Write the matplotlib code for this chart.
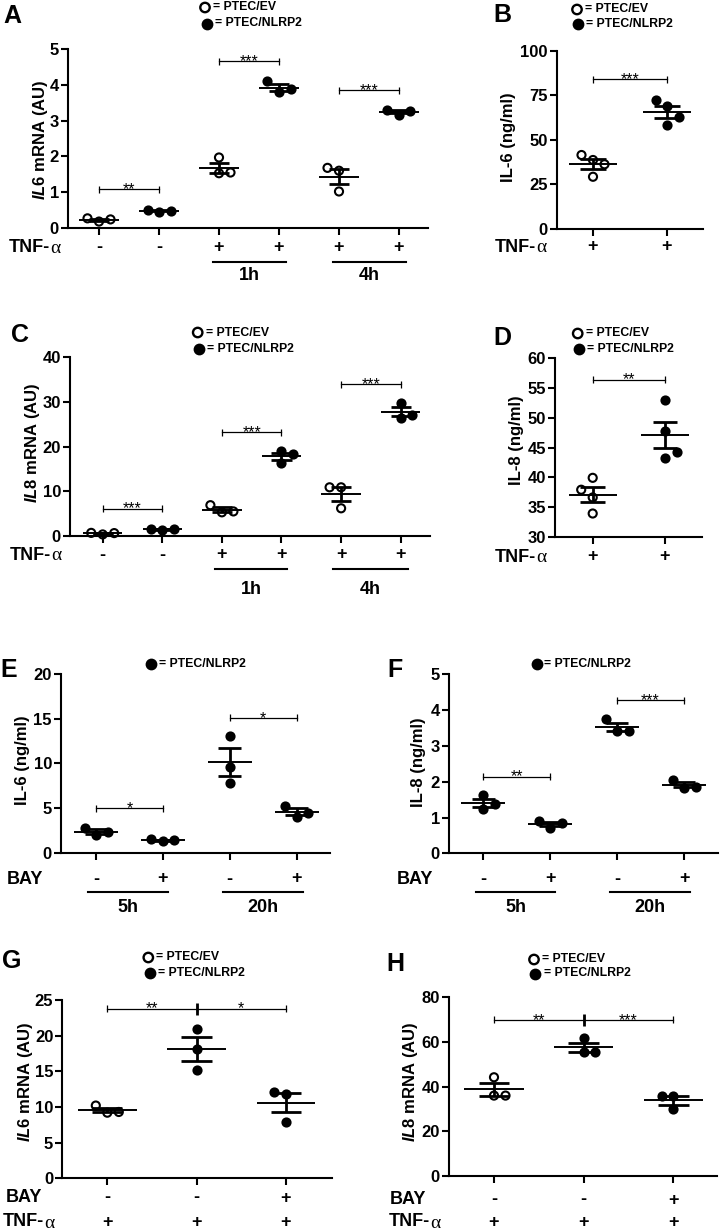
import matplotlib
matplotlib.use('Agg')
import matplotlib.pyplot as plt
import matplotlib.transforms as mtransforms
import numpy as np

plt.rcParams['font.family'] = ['Liberation Sans', 'DejaVu Sans']
plt.rcParams['font.weight'] = 'bold'
plt.rcParams['mathtext.fontset'] = 'custom'
plt.rcParams['mathtext.it'] = 'Liberation Sans:italic:bold'
plt.rcParams['mathtext.rm'] = 'Liberation Sans:bold'

W, H = 721, 1232

# ---------------- data ----------------
a_vals = [[0.27, 0.18, 0.24], [0.50, 0.46, 0.48], [1.97, 1.53, 1.55],
          [4.10, 3.79, 3.87], [1.68, 1.60, 1.02], [3.30, 3.16, 3.28]]
a_filled = [0, 1, 0, 1, 0, 1]
a_tnf = ['-', '-', '+', '+', '+', '+']
a_sig = [(0, 1, 1.08, '**'), (2, 3, 4.66, '***'), (4, 5, 3.85, '***')]

b_vals = [[41.5, 38.7, 36.3, 29.3], [72.3, 69.0, 63.0, 58.2]]
b_filled = [0, 1]
b_tnf = ['+', '+']
b_sig = [(0, 1, 84, '***')]

c_vals = [[0.7, 0.35, 0.65], [1.6, 1.4, 1.5], [6.9, 5.3, 5.5],
          [19.0, 18.3, 16.3], [10.9, 10.9, 6.2], [29.8, 26.5, 27.1]]
c_filled = [0, 1, 0, 1, 0, 1]
c_tnf = ['-', '-', '+', '+', '+', '+']
c_sig = [(0, 1, 6.1, '***'), (2, 3, 23.2, '***'), (4, 5, 34.0, '***')]

d_vals = [[39.9, 37.9, 36.6, 33.9], [53.0, 47.7, 44.3, 43.3]]
d_filled = [0, 1]
d_tnf = ['+', '+']
d_sig = [(0, 1, 56.4, '**')]

e_vals = [[2.8, 1.95, 2.35], [1.5, 1.3, 1.4], [13.1, 9.6, 7.8], [5.26, 4.03, 4.48]]
e_filled = [1, 1, 1, 1]
e_bay = ['-', '+', '-', '+']
e_sig = [(0, 1, 4.97, '*'), (2, 3, 15.1, '*')]

f_vals = [[1.63, 1.23, 1.37], [0.90, 0.70, 0.84], [3.74, 3.42, 3.42], [2.05, 1.83, 1.85]]
f_filled = [1, 1, 1, 1]
f_bay = ['-', '+', '-', '+']
f_sig = [(0, 1, 2.14, '**'), (2, 3, 4.28, '***')]

g_vals = [[10.2, 9.2, 9.3], [21.0, 18.1, 15.2], [12.1, 11.8, 7.9]]
g_filled = [0, 1, 1]
g_bay = ['-', '-', '+']
g_tnf = ['+', '+', '+']
g_sig = [(0, 1, 23.8, '**'), (1, 2, 23.8, '*')]

h_vals = [[44.2, 36.0, 36.0], [61.7, 55.7, 55.7], [36.0, 36.0, 29.9]]
h_filled = [0, 1, 1]
h_bay = ['-', '-', '+']
h_tnf = ['+', '+', '+']
h_sig = [(0, 1, 69.9, '**'), (1, 2, 69.9, '***')]

# horizontal spread of dots (in dot steps), layout only
a_jit = [[-1, 0, 1], [-1, 0, 1], [0, 0, 1], [-1, 0, 1], [-1, 0, 0], [-1, 0, 1]]
b_jit = [[-1, 0, 1, 0], [-1, 0, 1, 0]]
c_jit = [[-1, 0, 1], [-1, 0, 1], [-1, 0, 1], [0, 1, 0], [-1, 0, 0], [0, 0, 1]]
d_jit = [[0, -1, 0, 0], [0, 0, 1, 0]]
e_jit = [[-1, 0, 1], [-1, 0, 1], [0, 0, 0], [-1, 0, 1]]
f_jit = [[0, 0, 1], [-1, 0, 1], [-1, 0, 1], [-1, 0, 1]]
g_jit = [[-1, 0, 1], [0, 0, 0], [-1, 0, 0]]
h_jit = [[0, 0, 1], [0, 0, 1], [-1, 0, 0]]

fig = plt.figure(figsize=(W / 100, H / 100), dpi=100)
ov = fig.add_axes([0, 0, 1, 1])
ov.set_xlim(0, W)
ov.set_ylim(H, 0)
ov.axis('off')


def panel(box, cat0, step, ylim, yticks, groups, filled, jit, sigs):
    l, t, r, b = box
    ax = fig.add_axes([l / W, 1 - b / H, (r - l) / W, (b - t) / H])
    ax.set_xlim((l - cat0) / step, (r - cat0) / step)
    ax.set_ylim(*ylim)
    ax.set_yticks(yticks)
    ax.set_xticks(range(len(groups)))
    ax.set_xticklabels([])
    for s in ['top', 'right']:
        ax.spines[s].set_visible(False)
    for s in ['left', 'bottom']:
        ax.spines[s].set_linewidth(1.5)
    ax.tick_params(direction='out', length=5, width=1.5, labelsize=12, pad=1.5)
    ax.patch.set_visible(False)
    jstep = 11.5 / step
    ypx = (ylim[1] - ylim[0]) / (b - t)
    for i, (vals, f, jj) in enumerate(zip(groups, filled, jit)):
        v = np.array(vals)
        x = i + np.array(jj) * jstep
        ax.scatter(x, v, s=34, facecolor='black' if f else 'none',
                   edgecolor='black', linewidth=1.5, zorder=3, clip_on=False)
        m = v.mean()
        se = v.std(ddof=1) / np.sqrt(len(v))
        ax.hlines(m, i - 0.33, i + 0.33, color='k', lw=1.4, zorder=4)
        ax.hlines([m - se, m + se], i - 0.17, i + 0.17, color='k', lw=2, zorder=4)
        ax.vlines(i, m - se, m + se, color='k', lw=2, zorder=4)
    for a, bb, y, txt in sigs:
        ax.plot([a, bb], [y, y], color='k', lw=0.9, clip_on=False)
        ax.vlines([a, bb], y - 3.5 * ypx, y + 3.5 * ypx, color='k', lw=0.9, clip_on=False)
        ax.annotate(txt, ((a + bb) / 2, y), xytext=(0, -3.5), textcoords='offset points',
                    ha='center', va='baseline', fontsize=11.5, fontweight='normal')
    return ax


def row(ax, labels, y):
    tr = mtransforms.blended_transform_factory(ax.transData, ov.transData)
    for i, s in enumerate(labels):
        fig.text(i, y, s, transform=tr, ha='center', va='center', fontsize=13)


def underline(ax, i0, i1, lo, hi, y, label, ytext):
    x0 = ax.transData.transform((i0, 0))[0] + lo
    x1 = ax.transData.transform((i1, 0))[0] + hi
    x0 = fig.transFigure.inverted().transform((x0, 0))[0] * W
    x1 = fig.transFigure.inverted().transform((x1, 0))[0] * W
    ov.plot([x0, x1], [y, y], color='k', lw=1.5)
    ov.text((x0 + x1) / 2, ytext, label, ha='center', va='center', fontsize=13)


def rowname(name, xend, y):
    if name == 'TNF':
        ov.text(xend, y, 'TNF-', ha='right', va='center', fontsize=13)
        ov.text(xend, y + 1, '\u03b1', ha='left', va='center', fontsize=14,
                fontweight='normal', family=['Liberation Serif', 'DejaVu Serif'])
    else:
        ov.text(xend, y, name, ha='right', va='center', fontsize=13)


def legend(items):
    for (x, y, f, tx, txt) in items:
        ov.scatter([x], [y], s=46, facecolor='black' if f else 'none',
                   edgecolor='black', linewidth=1.7, clip_on=False)
        ov.text(tx, y, txt, ha='left', va='center', fontsize=8.8)


# A
axA = panel((68, 49, 428, 228), 99, 60, (0, 5), range(0, 6), a_vals, a_filled, a_jit, a_sig)
row(axA, a_tnf, 247.5)
rowname('TNF', 50, 247.5)
underline(axA, 2, 3, -6, 7, 262, '1h', 276)
underline(axA, 4, 5, -6, 7, 262, '4h', 276)
ov.text(41, 140, r'$\mathit{IL6}$ mRNA (AU)', rotation=90, ha='center', va='center', fontsize=12)
legend([(205, 7.5, 0, 213, '= PTEC/EV'), (207, 23.5, 1, 215, '= PTEC/NLRP2')])
ov.text(12, 16, 'A', ha='center', va='center', fontsize=18)

# B
axB = panel((556.7, 50.7, 703, 229), 593, 74, (0, 100), [0, 25, 50, 75, 100], b_vals, b_filled, b_jit, b_sig)
row(axB, b_tnf, 247)
rowname('TNF', 536, 247)
ov.text(508.5, 137.5, 'IL-6 (ng/ml)', rotation=90, ha='center', va='center', fontsize=12)
legend([(577, 9.5, 0, 585, '= PTEC/EV'), (577.5, 24, 1, 586, '= PTEC/NLRP2')])
ov.text(502, 15, 'B', ha='center', va='center', fontsize=18)

# C
axC = panel((70, 357.3, 430, 536), 102.7, 59.6, (0, 40), range(0, 41, 10), c_vals, c_filled, c_jit, c_sig)
row(axC, c_tnf, 555)
rowname('TNF', 51, 555)
underline(axC, 2, 3, -7, 6, 569, '1h', 589)
underline(axC, 4, 5, -8, 7, 569, '4h', 589)
ov.text(32.5, 443, r'$\mathit{IL8}$ mRNA (AU)', rotation=90, ha='center', va='center', fontsize=12)
legend([(197.7, 332.5, 0, 205.5, '= PTEC/EV'), (199, 348.5, 1, 207, '= PTEC/NLRP2')])
ov.text(20, 335, 'C', ha='center', va='center', fontsize=18)

# D
axD = panel((555, 358.3, 702, 536.7), 592.7, 72.3, (30, 60), range(30, 61, 5), d_vals, d_filled, d_jit, d_sig)
row(axD, d_tnf, 557)
rowname('TNF', 536, 557)
ov.text(517, 440, 'IL-8 (ng/ml)', rotation=90, ha='center', va='center', fontsize=12)
legend([(577.7, 333.5, 0, 585.5, '= PTEC/EV'), (579, 348.5, 1, 587, '= PTEC/NLRP2')])
ov.text(502, 338, 'D', ha='center', va='center', fontsize=18)

# E
axE = panel((61, 674, 330, 852.7), 96, 66.9, (0, 20), range(0, 21, 5), e_vals, e_filled, e_jit, e_sig)
row(axE, e_bay, 879)
rowname('BAY', 43, 879)
underline(axE, 0, 1, -8, 5, 892, '5h', 908)
underline(axE, 2, 3, -7, 6, 892, '20h', 908)
ov.text(23, 760, 'IL-6 (ng/ml)', rotation=90, ha='center', va='center', fontsize=12)
legend([(151, 664, 1, 159, '= PTEC/NLRP2')])
ov.text(9, 670, 'E', ha='center', va='center', fontsize=18)

# F
axF = panel((449, 674.3, 718, 853.3), 483.3, 66.9, (0, 5), range(0, 6), f_vals, f_filled, f_jit, f_sig)
row(axF, f_bay, 879)
rowname('BAY', 433, 879)
underline(axF, 0, 1, -7, 5, 892, '5h', 908)
underline(axF, 2, 3, -7, 6, 892, '20h', 908)
ov.text(419, 762, 'IL-8 (ng/ml)', rotation=90, ha='center', va='center', fontsize=12)
legend([(536.7, 664, 1, 544.5, '= PTEC/NLRP2')])
ov.text(395, 670, 'F', ha='center', va='center', fontsize=18)

# G
axG = panel((62.3, 1000, 331.7, 1178.3), 107.3, 89.35, (0, 25), range(0, 26, 5), g_vals, g_filled, g_jit, g_sig)
axG.vlines(1, 23.8 - 6 * 25 / 178.3, 23.8 + 6 * 25 / 178.3, color='k', lw=2, clip_on=False)
row(axG, g_bay, 1198)
row(axG, g_tnf, 1222)
rowname('BAY', 42, 1198)
rowname('TNF', 44, 1222)
ov.text(25.5, 1082, r'$\mathit{IL6}$ mRNA (AU)', rotation=90, ha='center', va='center', fontsize=12)
legend([(148.3, 957.5, 0, 156, '= PTEC/EV'), (150, 973, 1, 157.5, '= PTEC/NLRP2')])
ov.text(12, 961, 'G', ha='center', va='center', fontsize=18)

# H
axH = panel((449, 997.3, 716.7, 1176), 494, 89.65, (0, 80), range(0, 81, 20), h_vals, h_filled, h_jit, h_sig)
axH.vlines(1, 69.9 - 6 * 80 / 178.7, 69.9 + 6 * 80 / 178.7, color='k', lw=2, clip_on=False)
row(axH, h_bay, 1200)
row(axH, h_tnf, 1222)
rowname('BAY', 426, 1200)
rowname('TNF', 430, 1222)
ov.text(410.5, 1082, r'$\mathit{IL8}$ mRNA (AU)', rotation=90, ha='center', va='center', fontsize=12)
legend([(534, 959.5, 0, 541.5, '= PTEC/EV'), (535, 973.5, 1, 543.5, '= PTEC/NLRP2')])
ov.text(395, 964, 'H', ha='center', va='center', fontsize=18)

fig.savefig('out.png', dpi=100)
